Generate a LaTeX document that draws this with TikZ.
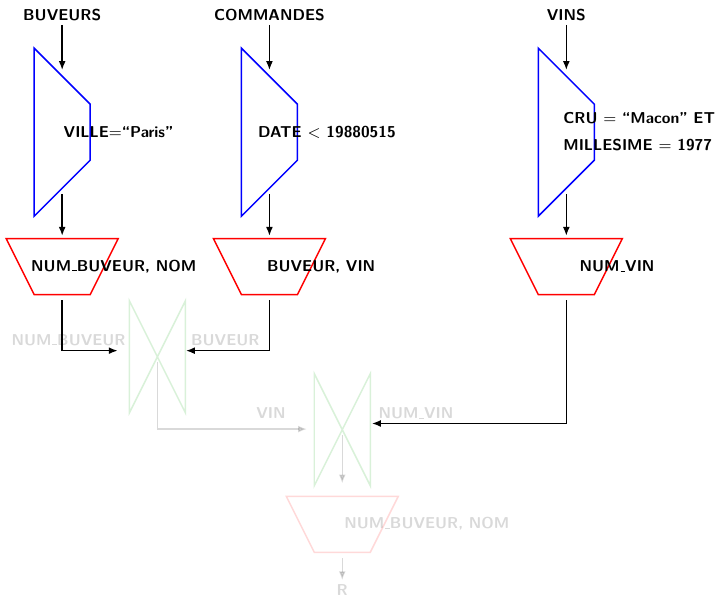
\documentclass[tikz,border=0pt]{standalone}
\usetikzlibrary{arrows.meta}
\definecolor{selblue}{HTML}{0000FF}
\definecolor{projred}{HTML}{FF0000}
\definecolor{joingreen}{HTML}{00A000}
\newcommand{\usc}{\leavevmode\kern.06em\vbox{\hrule width .3em}}
\tikzset{
  lbl/.style={font=\sffamily\bfseries\fontsize{8}{9.6}\selectfont, inner sep=2pt},
  link/.style={-{Latex[length=4.5pt,width=3.5pt]}, line width=0.75pt},
  faded/.style={opacity=0.15},
}

\begin{document}
\begin{tikzpicture}[x=1cm,y=1cm]
  \useasboundingbox (0,0) rectangle (12.80,-10.66);

  % Relations
  \node[lbl,anchor=base] (buveurs) at (1.11,-0.36) {BUVEURS};
  \node[lbl,anchor=base] (commandes) at (4.81,-0.36) {COMMANDES};
  \node[lbl,anchor=base] (vins) at (10.11,-0.36) {VINS};

  % Selections (blue) and projections (red), one column per relation
  \foreach \cx/\n in {1.11/1,4.81/2,10.11/3} {
    \draw[selblue,line width=0.75pt] (\cx-0.5,-0.86) -- (\cx+0.5,-1.86) -- (\cx+0.5,-2.86) -- (\cx-0.5,-3.86) -- cycle;
    \draw[projred,line width=0.75pt] (\cx-1,-4.26) -- (\cx+1,-4.26) -- (\cx+0.5,-5.26) -- (\cx-0.5,-5.26) -- cycle;
    \coordinate (sel\n-in) at (\cx,-1.25);
    \coordinate (sel\n-out) at (\cx,-3.46);
    \coordinate (proj\n-in) at (\cx,-4.21);
    \coordinate (proj\n-out) at (\cx,-5.36);
  }

  % Selection criteria
  \node[lbl,anchor=base west] (crit1) at (1.06,-2.46) {VILLE$=$“Paris”};
  \node[lbl,anchor=base west] (crit2) at (4.53,-2.46) {DATE $<$ 19880515};
  \node[lbl,anchor=base west] (crit3a) at (9.98,-2.20) {CRU $=$ “Macon” ET};
  \node[lbl,anchor=base west] (crit3b) at (9.98,-2.68) {MILLESIME $=$ 1977};

  % Projected attributes
  \node[lbl,anchor=base west] (attr1) at (0.48,-4.84) {NUM\usc BUVEUR, NOM};
  \node[lbl,anchor=base west] (attr2) at (4.69,-4.84) {BUVEUR, VIN};
  \node[lbl,anchor=base west] (attr3) at (10.27,-4.85) {NUM\usc VIN};

  \draw[link] (buveurs) -- (sel1-in);
  \draw[link] (commandes) -- (sel2-in);
  \draw[link] (vins) -- (sel3-in);
  \foreach \n in {1,2,3} {
    \draw[link] (sel\n-out) -- (proj\n-in);
  }

  % Joins (still to come, faded)
  \draw[joingreen,faded,line width=0.75pt] (2.31,-5.37) -- (2.31,-7.37) -- (3.31,-5.37) -- (3.31,-7.37) -- cycle;
  \draw[joingreen,faded,line width=0.75pt] (5.61,-6.67) -- (5.61,-8.67) -- (6.61,-6.67) -- (6.61,-8.67) -- cycle;
  \coordinate (join1-w) at (2.10,-6.26);
  \coordinate (join1-e) at (3.32,-6.26);
  \coordinate (join1-out) at (2.81,-6.46);
  \coordinate (join2-w) at (5.48,-7.66);
  \coordinate (join2-e) at (6.64,-7.56);
  \coordinate (join2-out) at (6.11,-7.77);

  \node[lbl,faded,anchor=base west] (key1) at (0.13,-6.16) {NUM\usc BUVEUR};
  \node[lbl,faded,anchor=base west] (key2) at (3.335,-6.16) {BUVEUR};
  \node[lbl,faded,anchor=base west] (key3) at (4.50,-7.47) {VIN};
  \node[lbl,faded,anchor=base west] (key4) at (6.68,-7.47) {NUM\usc VIN};

  \draw[link] (proj1-out) |- (join1-w);
  \draw[link] (proj2-out) |- (join1-e);
  \draw[link] (proj3-out) |- (join2-e);
  \draw[link,faded] (join1-out) |- (join2-w);

  % Final projection and result (faded)
  \draw[projred,faded,line width=0.75pt] (5.11,-8.86) -- (7.11,-8.86) -- (6.61,-9.86) -- (5.61,-9.86) -- cycle;
  \coordinate (proj4-in) at (6.11,-8.63);
  \coordinate (proj4-out) at (6.11,-9.97);
  \node[lbl,faded,anchor=base west] (attr4) at (6.07,-9.44) {NUM\usc BUVEUR, NOM};
  \node[lbl,faded,anchor=base] (res) at (6.11,-10.63) {R};

  \draw[link,faded] (join2-out) -- (proj4-in);
  \draw[link,faded] (proj4-out) -- (res);
\end{tikzpicture}
\end{document}
